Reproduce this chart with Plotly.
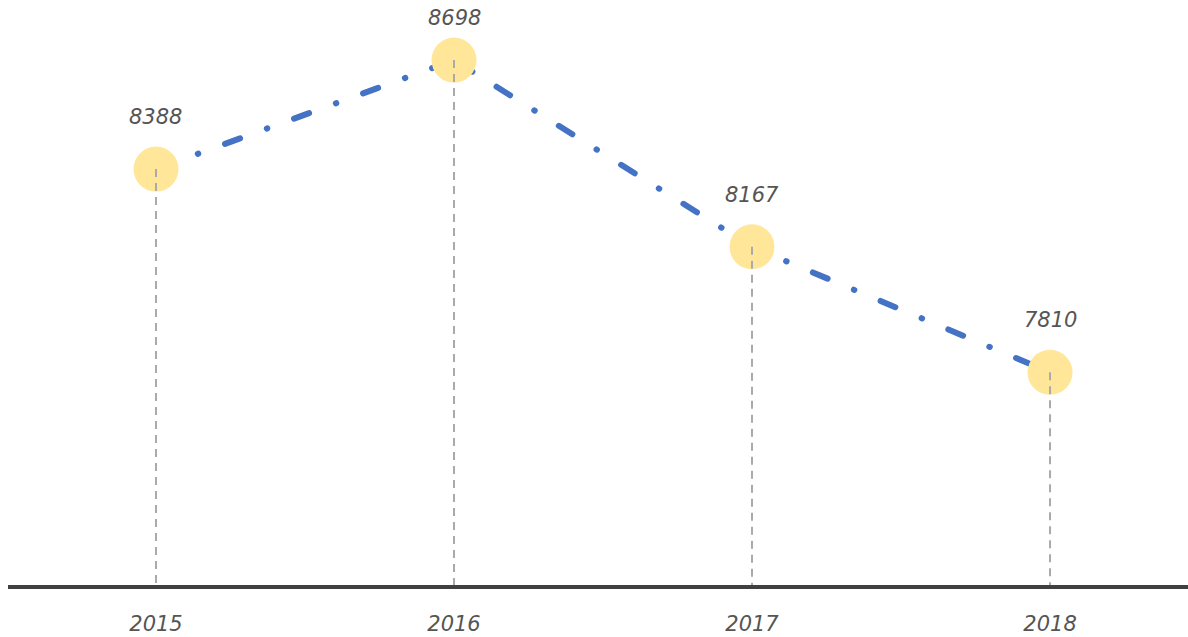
import plotly.graph_objects as go

years = ["2015", "2016", "2017", "2018"]
values = [8388, 8698, 8167, 7810]

y_min, y_max = 7205, 8869
plot_height = 585

fig = go.Figure()

# main dash-dot line connecting the yearly values
fig.add_trace(go.Scatter(
    x=years, y=values, mode="lines",
    line=dict(color="#4472C4", width=6, dash="16px,28.5px,0.5px,28.5px"),
    hoverinfo="skip",
))

# round markers on each point
fig.add_trace(go.Scatter(
    x=years, y=values, mode="markers",
    marker=dict(size=45, color="#FFE699", line=dict(width=0)),
    hoverinfo="skip",
))

# dashed drop lines from each point down to the baseline
drop_x, drop_y = [], []
for yr, v in zip(years, values):
    drop_x += [yr, yr, None]
    drop_y += [v, y_min, None]
fig.add_trace(go.Scatter(
    x=drop_x, y=drop_y, mode="lines",
    line=dict(color="#AAAAAA", width=2, dash="8px,6px"),
    hoverinfo="skip",
))

label_font = dict(family="DejaVu Sans", size=21, color="#555555")

# value labels above each point, kept inside the top edge
for i, v in enumerate(values):
    px_from_top = (y_max - v) / (y_max - y_min) * plot_height
    shift = min(52, px_from_top - 18)
    fig.add_annotation(
        xref="x", yref="y", x=i, y=v, text=f"<i>{v}</i>",
        showarrow=False, yshift=shift, font=label_font,
    )

fig.update_layout(
    width=1188, height=637,
    margin=dict(l=8, r=0, t=0, b=637 - plot_height),
    paper_bgcolor="white", plot_bgcolor="white",
    showlegend=False,
    xaxis=dict(
        type="category", range=[-0.4966, 3.463],
        showgrid=False, zeroline=False, automargin=False,
        showline=True, linecolor="#404040", linewidth=4,
        ticks="", ticklabelstandoff=17,
        tickfont=label_font,
        tickvals=years, ticktext=[f"<i>{y}</i>" for y in years],
    ),
    yaxis=dict(
        range=[y_min, y_max], visible=False, automargin=False,
        showgrid=False, zeroline=False,
    ),
)

round_caps = """
document.querySelectorAll('.scatterlayer .trace:first-child .js-line').forEach(function(p){
  p.style.strokeLinecap = 'round';
});
"""

fig.write_html("out.html", post_script=round_caps,
               config={"displayModeBar": False, "staticPlot": True})
